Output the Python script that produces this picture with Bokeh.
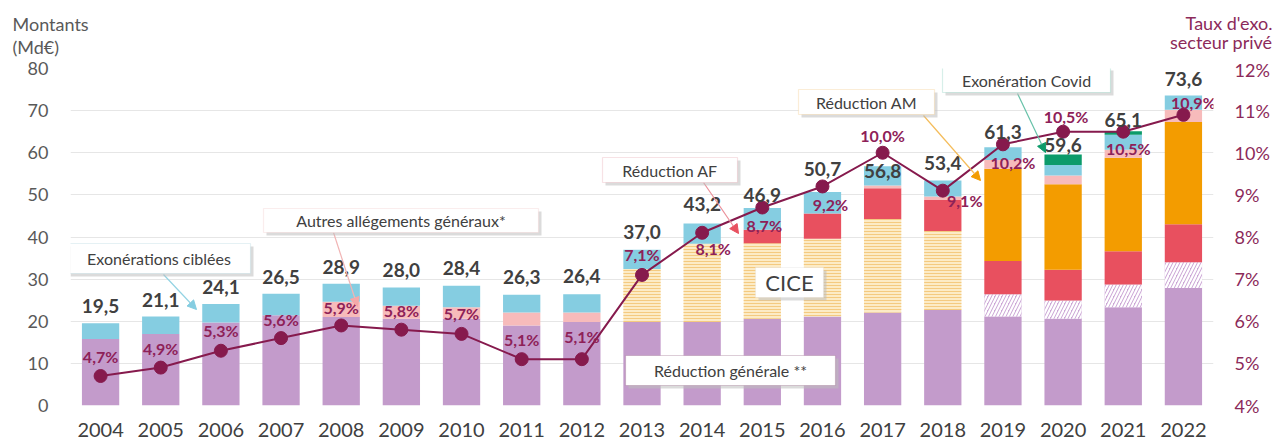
from bokeh.plotting import figure
from bokeh.layouts import column
from bokeh.models import (ColumnDataSource, FactorRange, Range1d, LinearAxis, FixedTicker,
                          Label, LabelSet, BoxAnnotation, Arrow, NormalHead)
from bokeh.transform import stack
from bokeh.core.properties import value
from bokeh.embed import file_html
from bokeh.resources import INLINE

# ---------------- data ----------------
years = [str(y) for y in range(2004, 2023)]
reduction_generale = [15.8, 17.0, 19.7, 21.4, 21.0, 20.6, 20.6, 19.0, 19.8, 19.8,
                      19.8, 20.6, 21.1, 22.1, 22.7, 21.1, 20.6, 23.3, 27.9]
reduction_generale_ext = [0, 0, 0, 0, 0, 0, 0, 0, 0, 0, 0, 0, 0, 0, 0, 5.3, 4.3, 5.4, 6.1]
cice = [0, 0, 0, 0, 0, 0, 0, 0, 0, 12.6, 18.6, 17.9, 18.5, 22.2, 18.7, 0, 0, 0, 0]
reduction_af = [0, 0, 0, 0, 0, 0, 0, 0, 0, 0, 0, 3.2, 6.0, 7.3, 7.4, 7.9, 7.3, 7.9, 9.0]
reduction_am = [0, 0, 0, 0, 0, 0, 0, 0, 0, 0, 0, 0, 0, 0, 0, 21.9, 20.3, 22.2, 24.3]
autres_allegements = [0, 0, 0, 0, 3.6, 3.1, 2.7, 3.1, 2.3, 0, 0, 0, 0, 0.6, 0.8, 2.1, 2.1, 1.9, 2.9]
exonerations_ciblees = [3.7, 4.1, 4.4, 5.1, 4.3, 4.3, 5.1, 4.2, 4.3, 4.6, 4.8, 5.2, 5.1, 4.6,
                        3.8, 3.0, 2.5, 3.6, 3.4]
exoneration_covid = [0, 0, 0, 0, 0, 0, 0, 0, 0, 0, 0, 0, 0, 0, 0, 0, 2.5, 0.8, 0]
totals = [19.5, 21.1, 24.1, 26.5, 28.9, 28.0, 28.4, 26.3, 26.4, 37.0, 43.2, 46.9, 50.7,
          56.8, 53.4, 61.3, 59.6, 65.1, 73.6]
taux_exo = [4.7, 4.9, 5.3, 5.6, 5.9, 5.8, 5.7, 5.1, 5.1, 7.1, 8.1, 8.7, 9.2, 10.0, 9.1,
            10.2, 10.5, 10.5, 10.9]
left_ticks = [0, 10, 20, 30, 40, 50, 60, 70, 80]
right_ticks = [4, 5, 6, 7, 8, 9, 10, 11, 12]

# ---------------- label placement (screen px) ----------------
total_dy = [17, 17, 17, 17, 17, 18, 18, 18, 18, 18, 20, 13, 23, -5, 18, 15, 9, 11, 16]
rate_dx = [0, 0, 0, 0, 0, 0, 0, 0, 0, 0, 11, 2, 8, 0, 22, 10, 3, 5, 10]
rate_dy = [20, 19, 20, 19, 18, 19, 20, 20, 23, 20, -16, -18, -18, 17, -10, -18, 15, -17, 12]

FONT = "Lato"
GREY = "#404040"
LINE = "#861A4D"
RATE_TXT = "#8E2158"
AXIS_RED = "#8C2A5A"

src = ColumnDataSource(dict(
    year=years, rg=reduction_generale, rgx=reduction_generale_ext, cice=cice,
    af=reduction_af, am=reduction_am, autres=autres_allegements,
    ciblees=exonerations_ciblees, covid=exoneration_covid,
    total=totals, total_txt=[f"{v:.1f}".replace(".", ",") for v in totals],
    rate=taux_exo, rate_txt=[f"{v:.1f}%".replace(".", ",") for v in taux_exo],
    tdy=total_dy, rdx=rate_dx, rdy=rate_dy,
))

W, H = 1275, 441
HEAD = 58                             # header strip holding the axis titles
FL, FR, FT, FB = 70, 1213, 68, 405   # frame edges in page pixels

# ---------------- header with axis titles ----------------
head = figure(width=W, height=HEAD, x_range=Range1d(0, W), y_range=Range1d(HEAD, 0),
              output_backend="svg", toolbar_location=None, x_axis_type=None, y_axis_type=None,
              min_border=0, min_border_left=0, min_border_right=0, min_border_top=0,
              min_border_bottom=0, frame_align=False)
head.outline_line_color = None
head.xgrid.visible = False
head.ygrid.visible = False
for txt, py in [("Montants", 23), ("(Md€)", 46)]:
    head.add_layout(Label(x=12, y=py, text=txt, text_align="left", text_baseline="middle",
                          text_font=FONT, text_font_size="18px", text_color="#595959"))
for txt, py in [("Taux d'exo.", 22), ("secteur privé", 41)]:
    head.add_layout(Label(x=1272, y=py, text=txt, text_align="right", text_baseline="middle",
                          text_font=FONT, text_font_size="18px", text_color=AXIS_RED))

# ---------------- main chart ----------------
p = figure(x_range=FactorRange(*years), y_range=Range1d(0, 80), width=W, height=H - HEAD,
           output_backend="svg", toolbar_location=None, frame_align=False,
           min_border_left=FL, min_border_right=W - FR, min_border_top=FT - HEAD,
           min_border_bottom=H - FB)
p.extra_y_ranges = {"rate": Range1d(4, 12)}
p.outline_line_color = None
p.background_fill_color = "white"

def X(px):
    return (px - FL) * len(years) / (FR - FL)
def Y(py):
    return (FB - py) * 80.0 / (FB - FT)

keys = ["rg", "rgx", "cice", "af", "am", "autres", "ciblees", "covid"]
styles = {
    "rg": dict(fill_color="#C39BCB"),
    "rgx": dict(fill_color="#CBA6D5", hatch_pattern="right_diagonal_line", hatch_color="white",
                hatch_weight=2.2, hatch_scale=7),
    "cice": dict(fill_color="#FCEBC6", hatch_pattern="horizontal_line", hatch_color="#F2C26E",
                 hatch_weight=0.8, hatch_scale=3),
    "af": dict(fill_color="#E8505F"),
    "am": dict(fill_color="#F39C00"),
    "autres": dict(fill_color="#F7BBBB"),
    "ciblees": dict(fill_color="#85CDE1"),
    "covid": dict(fill_color="#0B9B6A"),
}
for i, k in enumerate(keys):
    bottom = stack(*keys[:i]) if i > 0 else 0
    p.vbar(x="year", bottom=bottom, top=stack(*keys[:i + 1]), width=0.62, source=src,
           line_color=None, **styles[k])

p.line(x="year", y="rate", y_range_name="rate", source=src, line_color=LINE, line_width=2)
p.scatter(x="year", y="rate", y_range_name="rate", source=src, size=13,
          fill_color=LINE, line_color=LINE)

p.yaxis.ticker = FixedTicker(ticks=left_ticks)
ra = LinearAxis(y_range_name="rate", ticker=FixedTicker(ticks=right_ticks),
                major_label_overrides={t: f"{t}%" for t in right_ticks})
p.add_layout(ra, "right")
for ax in [p.yaxis[0], ra]:
    ax.axis_line_color = None
    ax.major_tick_line_color = None
    ax.minor_tick_line_color = None
    ax.major_label_text_font = FONT
    ax.major_label_text_font_size = "18px"
p.yaxis[0].major_label_text_color = "#595959"
p.yaxis[0].major_label_standoff = 16
ra.major_label_text_color = AXIS_RED
ra.major_label_standoff = 15
p.xaxis.axis_line_color = None
p.xaxis.major_tick_line_color = None
p.xaxis.minor_tick_line_color = None
p.xaxis.major_label_text_font = FONT
p.xaxis.major_label_text_font_size = "20px"
p.xaxis.major_label_text_color = GREY
p.xaxis.major_label_standoff = 11
p.xgrid.grid_line_color = None
p.ygrid.grid_line_color = "#E6E6E6"

p.add_layout(LabelSet(x="year", y="total", text="total_txt", source=src, y_offset="tdy",
                      text_align="center", text_baseline="middle",
                      text_font=value(FONT), text_font_style="bold",
                      text_font_size="19px", text_color=GREY))
p.add_layout(LabelSet(x="year", y="rate", y_range_name="rate", text="rate_txt", source=src,
                      x_offset="rdx", y_offset="rdy", text_align="center", text_baseline="middle",
                      text_font=value(FONT), text_font_style="bold",
                      text_font_size="16px", text_color=RATE_TXT))

# ---------------- annotation boxes and arrows ----------------
boxes = [
    ("Exonérations ciblées", (67, 243, 250, 273), "#A9CFD9", 16),
    ("Autres allégements généraux*", (263, 208, 538, 232), "#EDC3C3", 16),
    ("Réduction AF", (602, 157, 737, 182), "#E3A0A8", 16),
    ("CICE", (755, 267, 823, 297), "#D9D9D9", 22),
    ("Réduction générale **", (625, 355, 835, 385), "#8A5A7A", 16),
    ("Réduction AM", (798, 89, 934, 114), "#F3C479", 16),
    ("Exonération Covid", (942, 67, 1110, 92), "#7CCBB5", 16),
]
arrows = [
    ((163, 274), (196, 309), "#93D3E3", "#85CDE1"),
    ((333, 232), (357, 306), "#F1B4B4", "#F4A9A9"),
    ((703, 182), (738, 233), "#EA8F99", "#E8505F"),
    ((923, 115), (980, 180), "#F4BC5A", "#F39C00"),
    ((1017, 93), (1045, 152), "#66C1A8", "#0B9B6A"),
]
for (x0, y0), (x1, y1), lc, hc in arrows:
    p.add_layout(Arrow(x_start=X(x0), y_start=Y(y0), x_end=X(x1), y_end=Y(y1),
                       line_color=lc, line_width=1.2,
                       end=NormalHead(size=9, fill_color=hc, line_color=hc)))
for txt, (l, t, r, b), bc, fs in boxes:
    p.add_layout(BoxAnnotation(left=X(l + 3), right=X(r + 3), top=Y(t + 3), bottom=Y(b + 3),
                               fill_color="#BDBDBD", fill_alpha=0.55, line_color=None))
    p.add_layout(BoxAnnotation(left=X(l), right=X(r), top=Y(t), bottom=Y(b),
                               fill_color="white", fill_alpha=1, line_color=bc, line_width=1.2))
    p.add_layout(Label(x=X((l + r) / 2), y=Y((t + b) / 2), text=txt, text_align="center",
                       text_baseline="middle", text_font=FONT, text_font_size=f"{fs}px",
                       text_color=GREY))

layout = column(head, p, spacing=0)
open("out.html", "w").write(file_html(layout, INLINE))
